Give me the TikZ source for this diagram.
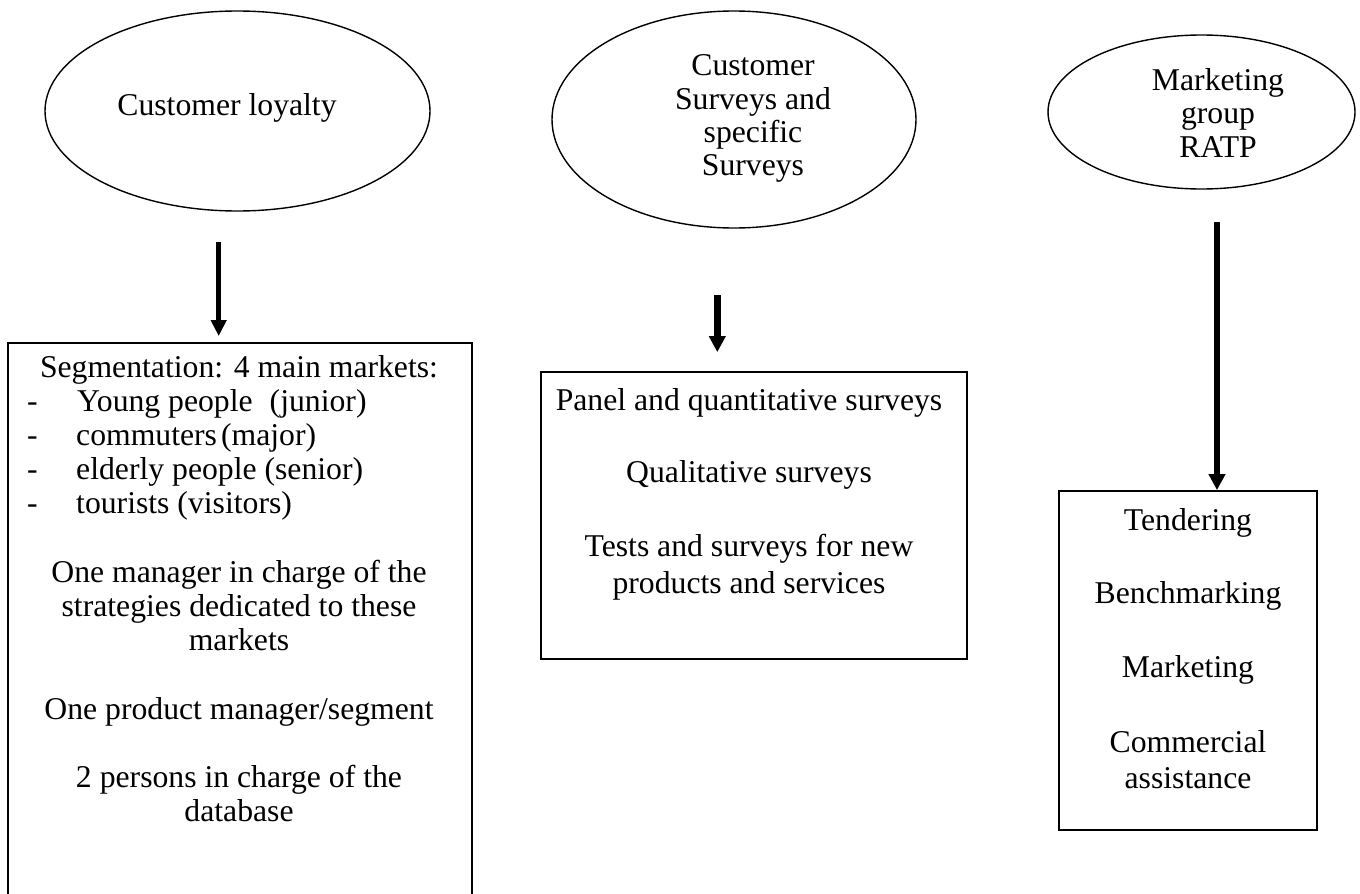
\documentclass[tikz,border=0pt]{standalone}
\usepackage{fontspec}
\setmainfont{Liberation Serif}
\usetikzlibrary{arrows.meta,shapes.geometric}
\begin{document}
\begin{tikzpicture}[x=1pt,y=-1pt,
  every node/.style={font=\fontsize{31.7}{34.2}\selectfont},
  oval/.style={draw, ellipse, line width=1.4pt, inner sep=0pt},
  boxnode/.style={draw, rectangle, line width=1.8pt, inner sep=0pt},
  txt/.style={anchor=base, inner sep=0pt},
  ltxt/.style={anchor=base west, inner sep=0pt},
  arr/.style={-{Triangle[width=15pt,length=16pt]}, line width=5pt},
  arrthick/.style={-{Triangle[width=16pt,length=16pt]}, line width=6.5pt},
]
\useasboundingbox (0,0) rectangle (1360,894);
\fill[white] (0,0) rectangle (1360,894);

% ellipses
\node[oval, minimum width=385pt, minimum height=200pt] (e1) at (237.5,111) {};
\node[oval, minimum width=364pt, minimum height=217pt] (e2) at (734,119.5) {};
\node[oval, minimum width=307pt, minimum height=154pt] (e3) at (1201.5,112) {};

\node[txt] (e1t) at (227,115) {Customer loyalty};

\node[txt] (e2t1) at (753,75) {Customer};
\node[txt] (e2t2) at (753,109) {Surveys and};
\node[txt] (e2t3) at (753,142) {specific};
\node[txt] (e2t4) at (753,175) {Surveys};

\node[txt] (e3t1) at (1218,90) {Marketing};
\node[txt] (e3t2) at (1218,123.5) {group};
\node[txt] (e3t3) at (1218,157) {RATP};

% boxes
\node[boxnode, minimum width=464pt, minimum height=562pt] (b1) at (240,624) {};
\node[boxnode, minimum width=426pt, minimum height=287pt] (b2) at (754,515.5) {};
\node[boxnode, minimum width=258pt, minimum height=339pt] (b3) at (1188,660.5) {};

% box 1 text
\node[txt] (b1h) at (239,377) {Segmentation: 4 main markets:};
\node[ltxt] (d1) at (27,411.2) {-};
\node[ltxt] (d2) at (27,445.4) {-};
\node[ltxt] (d3) at (27,479.6) {-};
\node[ltxt] (d4) at (27,513.8) {-};
\node[ltxt] (i1) at (77,411.2) {Young people\hspace{17pt}(junior)};
\node[ltxt] (i2) at (76,445.4) {commuters\hspace{4pt}(major)};
\node[ltxt] (i3) at (76,479.6) {elderly people (senior)};
\node[ltxt] (i4) at (76,513.8) {tourists (visitors)};
\node[txt] (p1a) at (239,582.2) {One manager in charge of the};
\node[txt] (p1b) at (239,616.4) {strategies dedicated to these};
\node[txt] (p1c) at (239,650.6) {markets};
\node[txt] (p2) at (239,719) {One product manager/segment};
\node[txt] (p3a) at (239,787.4) {2 persons in charge of the};
\node[txt] (p3b) at (239,821.6) {database};

% box 2 text
\node[txt] (q1) at (749,410) {Panel and quantitative surveys};
\node[txt] (q2) at (749,482) {Qualitative surveys};
\node[txt] (q3a) at (749,556.5) {Tests and surveys for new};
\node[txt] (q3b) at (749,593) {products and services};

% box 3 text
\node[txt] (r1) at (1188,530) {Tendering};
\node[txt] (r2) at (1188,603.5) {Benchmarking};
\node[txt] (r3) at (1188,677) {Marketing};
\node[txt] (r4a) at (1188,752) {Commercial};
\node[txt] (r4b) at (1188,788.5) {assistance};

% arrows
\coordinate (a1s) at (218.7,242);
\coordinate (a2s) at (717.3,295);
\coordinate (a3s) at (1217,222);
\draw[arr, shorten >=6pt] (a1s) -- (a1s |- b1.north);
\draw[arrthick, shorten >=19pt] (a2s) -- (a2s |- b2.north);
\draw[arrthick] (a3s) -- (a3s |- b3.north);
\end{tikzpicture}
\end{document}
